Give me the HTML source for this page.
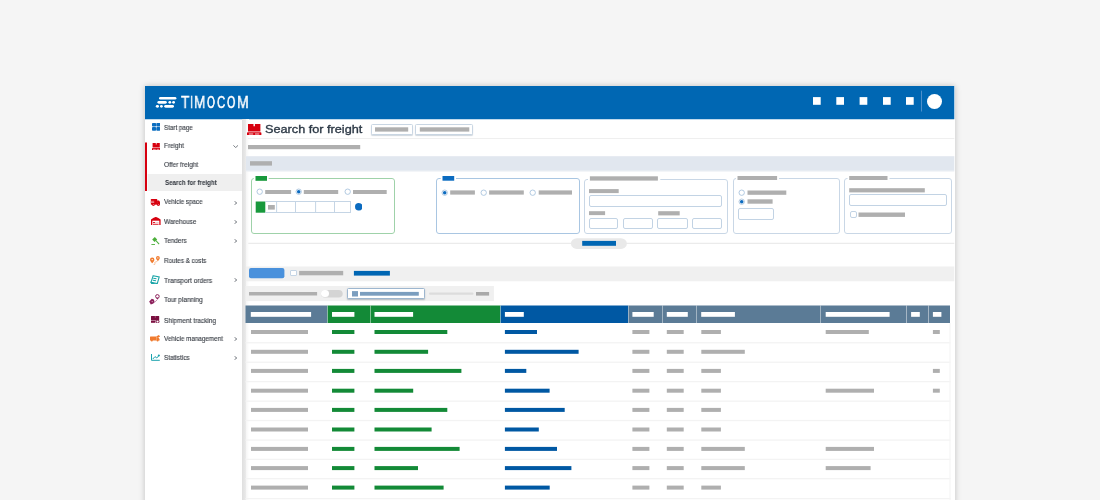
<!DOCTYPE html>
<html><head><meta charset="utf-8"><title>TIMOCOM</title><style>
*{margin:0;padding:0;box-sizing:border-box}
html,body{width:1100px;height:500px;overflow:hidden;background:#f5f5f5;font-family:"Liberation Sans",sans-serif}
body{position:relative}
.a{position:absolute}
.t{white-space:nowrap;transform-origin:0 0;will-change:transform}
</style></head><body>
<div class="a" style="left:145.00px;top:86.00px;width:810.00px;height:434.00px;background:#fff;box-shadow:0 0 6px rgba(0,0,0,.22)"></div>
<svg class="a" style="left:0;top:0" width="1100" height="500"><rect x="145" y="86" width="809.3" height="33.25" fill="#0067b3"/><rect x="159" y="97" width="17.4" height="2.5" fill="#fff" rx="1.4"/><rect x="157.4" y="101" width="9.4" height="2.7" fill="#fff" rx="1.4"/><rect x="168.4" y="101" width="2.8" height="2.7" fill="#fff" rx="1.4"/><rect x="172.2" y="101" width="2.8" height="2.7" fill="#fff" rx="1.4"/><rect x="155.8" y="105" width="3.2" height="2.7" fill="#fff" rx="1.4"/><rect x="160" y="105" width="2.8" height="2.7" fill="#fff" rx="1.4"/><rect x="164.2" y="105" width="9.8" height="2.7" fill="#fff" rx="1.4"/></svg>
<div class="a t" style="left:180.50px;top:94.69px;font-size:15.6px;line-height:15.6px;transform:scaleX(0.8676);color:#fff;-webkit-text-stroke:0.4px #fff;">T</div>
<div class="a t" style="left:189.61px;top:94.69px;font-size:15.6px;line-height:15.6px;transform:scaleX(0.7548);color:#fff;-webkit-text-stroke:0.4px #fff;">I</div>
<div class="a t" style="left:194.28px;top:94.69px;font-size:15.6px;line-height:15.6px;transform:scaleX(0.8767);color:#fff;-webkit-text-stroke:0.4px #fff;">M</div>
<div class="a t" style="left:207.32px;top:94.69px;font-size:15.6px;line-height:15.6px;transform:scaleX(0.649);color:#fff;-webkit-text-stroke:0.6px #fff;">O</div>
<div class="a t" style="left:217.03px;top:94.69px;font-size:15.6px;line-height:15.6px;transform:scaleX(0.7252);color:#fff;-webkit-text-stroke:0.6px #fff;">C</div>
<div class="a t" style="left:227.39px;top:94.69px;font-size:15.6px;line-height:15.6px;transform:scaleX(0.6845);color:#fff;-webkit-text-stroke:0.6px #fff;">O</div>
<div class="a t" style="left:237.04px;top:94.69px;font-size:15.6px;line-height:15.6px;transform:scaleX(0.9044);color:#fff;-webkit-text-stroke:0.4px #fff;">M</div>
<svg class="a" style="left:0;top:0" width="1100" height="500"><rect x="813" y="97.1" width="7.7" height="7.7" fill="#fff"/><rect x="836.3" y="97.1" width="7.7" height="7.7" fill="#fff"/><rect x="859.6" y="97.1" width="7.7" height="7.7" fill="#fff"/><rect x="883" y="97.1" width="7.7" height="7.7" fill="#fff"/><rect x="906" y="97.1" width="7.7" height="7.7" fill="#fff"/><rect x="921" y="90.7" width="1" height="20.8" fill="#4d8fcb"/></svg>
<div class="a" style="left:926.80px;top:93.60px;width:15.20px;height:15.30px;background:#fff;border-radius:50%"></div>
<div class="a" style="left:242.00px;top:119.00px;width:4.00px;height:401.00px;background:linear-gradient(90deg,#dfdfdf,#e4e4e4 50%,#ebebeb)"></div>
<div class="a" style="left:246.00px;top:119.00px;width:3.00px;height:401.00px;background:linear-gradient(90deg,#f5f5f5,#fff)"></div>
<svg class="a" style="left:0;top:0" width="1100" height="500"><rect x="147.6" y="174" width="94.3" height="17" fill="#efefef"/><rect x="145" y="142.5" width="2" height="48.5" fill="#d7000f"/></svg>
<div class="a t" style="left:164.00px;top:124.54px;font-size:6.8px;line-height:6.8px;transform:scaleX(0.918);color:#363b43;-webkit-text-stroke:0.12px #30353c;">Start page</div>
<div class="a t" style="left:164.30px;top:143.24px;font-size:6.8px;line-height:6.8px;transform:scaleX(0.9384);color:#363b43;-webkit-text-stroke:0.12px #30353c;">Freight</div>
<div class="a t" style="left:164.40px;top:161.84px;font-size:6.8px;line-height:6.8px;transform:scaleX(0.9588);color:#363b43;-webkit-text-stroke:0.12px #30353c;">Offer freight</div>
<div class="a t" style="left:164.50px;top:180.04px;font-size:6.8px;line-height:6.8px;transform:scaleX(0.9129);color:#363b43;font-weight:bold;color:#2c3139;">Search for freight</div>
<div class="a t" style="left:163.80px;top:199.24px;font-size:6.8px;line-height:6.8px;transform:scaleX(0.918);color:#363b43;-webkit-text-stroke:0.12px #30353c;">Vehicle space</div>
<div class="a t" style="left:164.00px;top:218.94px;font-size:6.8px;line-height:6.8px;transform:scaleX(0.9384);color:#363b43;-webkit-text-stroke:0.12px #30353c;">Warehouse</div>
<div class="a t" style="left:164.30px;top:237.84px;font-size:6.8px;line-height:6.8px;transform:scaleX(0.9384);color:#363b43;-webkit-text-stroke:0.12px #30353c;">Tenders</div>
<div class="a t" style="left:164.40px;top:257.54px;font-size:6.8px;line-height:6.8px;transform:scaleX(0.9251400000000001);color:#363b43;-webkit-text-stroke:0.12px #30353c;">Routes &amp; costs</div>
<div class="a t" style="left:164.40px;top:277.74px;font-size:6.8px;line-height:6.8px;transform:scaleX(0.96492);color:#363b43;-webkit-text-stroke:0.12px #30353c;">Transport orders</div>
<div class="a t" style="left:164.00px;top:296.64px;font-size:6.8px;line-height:6.8px;transform:scaleX(0.9486000000000001);color:#363b43;-webkit-text-stroke:0.12px #30353c;">Tour planning</div>
<div class="a t" style="left:164.00px;top:317.54px;font-size:6.8px;line-height:6.8px;transform:scaleX(0.9588);color:#363b43;-webkit-text-stroke:0.12px #30353c;">Shipment tracking</div>
<div class="a t" style="left:164.00px;top:336.04px;font-size:6.8px;line-height:6.8px;transform:scaleX(0.9282);color:#363b43;-webkit-text-stroke:0.12px #30353c;">Vehicle management</div>
<div class="a t" style="left:164.00px;top:354.64px;font-size:6.8px;line-height:6.8px;transform:scaleX(0.9435000000000001);color:#363b43;-webkit-text-stroke:0.12px #30353c;">Statistics</div>
<svg class="a" style="left:151.7px;top:123.3px" width="8.4" height="7.7" viewBox="0 0 8.4 7.7"><g fill="#0b6dc0"><rect x="0" y="0" width="4.1" height="3.6" rx=".8"/><rect x="4.3" y="0" width="4.1" height="3.6" rx=".8"/><rect x="0" y="4.1" width="4.1" height="3.6" rx=".8"/><rect x="4.3" y="4.1" width="4.1" height="3.6" rx=".8"/></g></svg>
<svg class="a" style="left:151.8px;top:142.8px" width="8.4" height="7.4" viewBox="0 0 8.4 7.4"><g fill="#d7000f"><path d="M0.6 0h3.2v1.4h0.8V0h3.2v4.5H0.6z"/><rect x="0" y="5" width="8.4" height="2.4" rx=".6"/></g><g fill="#fff"><rect x="1" y="5.9" width="2.8" height=".6"/><rect x="4.6" y="5.9" width="2.8" height=".6"/></g></svg>
<svg class="a" style="left:150px;top:199px" width="10.4" height="7.2" viewBox="0 0 10.4 7.2"><g fill="#d7000f"><rect x="0.9" y="0.1" width="6.3" height="4.9" rx=".5"/><path d="M7.1 1.5H9l1.2 1.5v2.6H7.1z"/><rect x="0.9" y="4.3" width="9.3" height="1.4"/><circle cx="3.4" cy="5.7" r="1.3"/><circle cx="8.4" cy="5.7" r="1.3"/></g><g fill="#fff"><circle cx="3.4" cy="5.7" r=".45"/><circle cx="8.4" cy="5.7" r=".45"/><rect x="0.9" y="1.9" width="3.3" height=".5"/><rect x="0.9" y="3.1" width="3.3" height=".5"/></g><g fill="#d7000f" opacity=".35"><rect x="0" y="1.9" width="0.9" height=".5"/><rect x="0" y="3.1" width="0.9" height=".5"/></g></svg>
<svg class="a" style="left:151px;top:217px" width="9.6" height="8" viewBox="0 0 9.6 8"><path fill="#d7000f" d="M0 2.4Q2.2.8 4.5 0h.6Q7.4.8 9.6 2.4V8H0z"/><rect fill="#fff" x="1.3" y="3.7" width="7" height="4.3"/><g fill="#d7000f"><rect x="2" y="5" width="2.2" height=".9"/><rect x="2" y="6.8" width="5.6" height=".9"/><rect x="5.2" y="5" width="2.4" height=".5" opacity=".5"/></g></svg>
<svg class="a" style="left:151px;top:237px" width="8.6" height="8" viewBox="0 0 8.6 8"><g fill="#4caf3b"><path d="M1.2 2.6L3.8 0l2.4 2.4-2.6 2.6z"/><path d="M4.6 4L5.3 3.3l3.2 3.5-.8.8z"/><rect x="0.4" y="7.1" width="3.6" height=".9"/></g></svg>
<svg class="a" style="left:149.8px;top:255.6px" width="10" height="9.2" viewBox="0 0 10 9.2"><g fill="#f07b2f"><path d="M2.2 1.5a2.2 2.2 0 0 1 2.2 2.2c0 1.4-2.2 3.6-2.2 3.6S0 5.1 0 3.7A2.2 2.2 0 0 1 2.2 1.5z"/><path d="M7.9 0a1.9 1.9 0 0 1 1.9 1.9c0 1.2-1.9 3.1-1.9 3.1S6 3.1 6 1.9A1.9 1.9 0 0 1 7.9 0z"/></g><g fill="#fff"><circle cx="2.2" cy="3.6" r=".7"/><circle cx="7.9" cy="1.9" r=".6"/></g><path d="M7.4 5.4c-2 .6-3.6 1-2.4 2.2 .6.6-.5 1.2-1.6 1.3" stroke="#f07b2f" stroke-width=".6" fill="none" opacity=".8"/></svg>
<svg class="a" style="left:150.4px;top:275px" width="9.6" height="9.2" viewBox="0 0 9.6 9.2"><g fill="none" stroke="#1aa5a8" stroke-width="1.1"><path d="M3.2.7l6 1.3-1.9 6.6-6.3-1.2z"/><path d="M3.3 3.2l3.2.6M2.8 5.2l3.2.6"/></g><path fill="#1aa5a8" d="M.3 6.6L1.2 9l5.5.1z"/></svg>
<svg class="a" style="left:148.9px;top:294px" width="11" height="10.5" viewBox="0 0 11 10.5"><circle cx="8.4" cy="2.4" r="1.8" fill="none" stroke="#8b1e5a" stroke-width="1"/><path d="M7.2 3.8L8.4 5.8 9.6 3.8" fill="#8b1e5a"/><path d="M7.6 6.2c-.6 1.2-1.6 1.6-2.4 2.6" stroke="#8b1e5a" stroke-width=".7" fill="none" stroke-dasharray=".9 .6"/><path fill="#8b1e5a" d="M.2 7.6L2.8 4.8 4.8 5.4 5.6 7.8 4.4 9.6 1.8 10.4z"/><circle cx="3.2" cy="7.6" r=".7" fill="#fff" opacity=".6"/></svg>
<svg class="a" style="left:150.8px;top:315.9px" width="8.8" height="7.6" viewBox="0 0 8.8 7.6"><g fill="#7b0f40"><rect x="0" y="0" width="8.2" height="4.4" rx=".3"/><rect x="0" y="4.9" width="4.4" height="1.9"/></g><rect x="3.9" y="0" width=".5" height="1.8" fill="#fff" opacity=".6"/><circle cx="6.6" cy="5.6" r="1.45" fill="#fff" stroke="#7b0f40" stroke-width="1"/></svg>
<svg class="a" style="left:150px;top:335.3px" width="10.2" height="6.6" viewBox="0 0 10.2 6.6"><g fill="#f07b2f"><rect x="0" y="1.4" width="6.6" height="4.2" rx=".5"/><path d="M6.6 2.4h1.8l1.2 1.5v1.7H6.6z"/><circle cx="1.8" cy="5.6" r="1"/><circle cx="7.6" cy="5.6" r="1"/><path d="M6.2 1.6L8.8 0 10.2 1.4 7.6 3z"/></g></svg>
<svg class="a" style="left:151px;top:354.2px" width="8.8" height="6.8" viewBox="0 0 8.8 6.8"><g fill="none" stroke="#18a2ad" stroke-width="1"><path d="M.5 0v6.3h8.3"/><path d="M1.8 5l2.2-2.4 1.8 1.4 2.6-3"/></g><circle cx="7.8" cy="1.5" r="1" fill="#18a2ad"/></svg>
<svg class="a" style="left:234.3px;top:200.7px" width="3.6" height="4" viewBox="0 0 3.6 4"><path d="M.5.3L2.8 2 .5 3.7" stroke="#575d65" stroke-width=".8" fill="none"/></svg>
<svg class="a" style="left:234.3px;top:219.5px" width="3.6" height="4" viewBox="0 0 3.6 4"><path d="M.5.3L2.8 2 .5 3.7" stroke="#575d65" stroke-width=".8" fill="none"/></svg>
<svg class="a" style="left:234.3px;top:238.6px" width="3.6" height="4" viewBox="0 0 3.6 4"><path d="M.5.3L2.8 2 .5 3.7" stroke="#575d65" stroke-width=".8" fill="none"/></svg>
<svg class="a" style="left:234.3px;top:278.4px" width="3.6" height="4" viewBox="0 0 3.6 4"><path d="M.5.3L2.8 2 .5 3.7" stroke="#575d65" stroke-width=".8" fill="none"/></svg>
<svg class="a" style="left:234.3px;top:337.1px" width="3.6" height="4" viewBox="0 0 3.6 4"><path d="M.5.3L2.8 2 .5 3.7" stroke="#575d65" stroke-width=".8" fill="none"/></svg>
<svg class="a" style="left:234.3px;top:355.9px" width="3.6" height="4" viewBox="0 0 3.6 4"><path d="M.5.3L2.8 2 .5 3.7" stroke="#575d65" stroke-width=".8" fill="none"/></svg>
<svg class="a" style="left:233px;top:144.6px" width="5.4" height="3.4" viewBox="0 0 5.4 3.4"><path d="M.4.4L2.7 2.6 5 .4" stroke="#575d65" stroke-width=".8" fill="none"/></svg>
<svg class="a" style="left:247.3px;top:123.7px" width="14.4" height="11.5" viewBox="0 0 14.4 11.5"><g fill="#d7000f"><path d="M1 0h5.5v2.3h1.4V0h5.5v7.4H1z"/><rect x="0" y="8.2" width="14.4" height="3.3" rx=".8"/></g><g fill="#fff"><rect x="1.9" y="9.6" width="4.3" height=".8"/><rect x="8" y="9.6" width="4.3" height=".8"/></g></svg>
<div class="a t" style="left:264.90px;top:123.91px;font-size:11.8px;line-height:11.8px;transform:scaleX(1.075);color:#2d3946;-webkit-text-stroke:0.35px #2d3946;">Search for freight</div>
<div class="a" style="left:370.50px;top:123.80px;width:42.30px;height:11.40px;background:#fff;border:1px solid #c9d6e3;border-radius:1.5px;box-shadow:0 1px 1px rgba(120,140,160,.35)"></div>
<svg class="a" style="left:0;top:0" width="1100" height="500"><rect x="375" y="127.3" width="33.2" height="4.3" fill="#afafaf"/></svg>
<div class="a" style="left:415.30px;top:123.80px;width:57.70px;height:11.40px;background:#fff;border:1px solid #c9d6e3;border-radius:1.5px;box-shadow:0 1px 1px rgba(120,140,160,.35)"></div>
<svg class="a" style="left:0;top:0" width="1100" height="500"><rect x="419.8" y="127.3" width="49.5" height="4.3" fill="#afafaf"/><rect x="248" y="138" width="706.3" height="1" fill="#efefef"/><rect x="248" y="145" width="112.2" height="4.2" fill="#afafaf"/><rect x="246" y="156.2" width="708.3" height="14.6" fill="#e1e7ef"/><rect x="246" y="170.8" width="708.3" height="0.8" fill="#eceff3"/><rect x="250" y="161.2" width="22" height="4.4" fill="#afafaf"/></svg>
<div class="a" style="left:251.00px;top:178.00px;width:144.00px;height:56.00px;border:1px solid #9fd2a9;border-radius:3px"></div>
<svg class="a" style="left:0;top:0" width="1100" height="500"><rect x="253.8" y="177" width="14.9" height="3" fill="#fff"/><rect x="255.5" y="176" width="11.5" height="4.8" fill="#18993c"/></svg>
<svg class="a" style="left:255.60px;top:188.30px;overflow:visible" width="7.40" height="7.40"><circle cx="3.7" cy="3.7" r="2.7" fill="#fff" stroke="#a9c4de" stroke-width="0.9"/></svg>
<svg class="a" style="left:0;top:0" width="1100" height="500"><rect x="265.2" y="190" width="25.9" height="4" fill="#afafaf"/></svg>
<svg class="a" style="left:294.60px;top:188.30px;overflow:visible" width="7.40" height="7.40"><circle cx="3.7" cy="3.7" r="2.7" fill="#fff" stroke="#a9c4de" stroke-width="0.9"/><circle cx="3.7" cy="3.7" r="1.75" fill="#0b6bc0"/></svg>
<svg class="a" style="left:0;top:0" width="1100" height="500"><rect x="303.8" y="190" width="34.4" height="4" fill="#afafaf"/></svg>
<svg class="a" style="left:343.90px;top:188.30px;overflow:visible" width="7.40" height="7.40"><circle cx="3.7" cy="3.7" r="2.7" fill="#fff" stroke="#a9c4de" stroke-width="0.9"/></svg>
<svg class="a" style="left:0;top:0" width="1100" height="500"><rect x="353" y="190" width="33.7" height="4" fill="#afafaf"/><rect x="255.7" y="201.5" width="9.6" height="11.2" fill="#18993c"/></svg>
<div class="a" style="left:265.30px;top:201.30px;width:85.30px;height:11.70px;border:1px solid #c5d5e5;border-left:none"></div>
<svg class="a" style="left:0;top:0" width="1100" height="500"><rect x="276.1" y="201.3" width="1" height="11.7" fill="#c5d5e5"/><rect x="295" y="201.3" width="1" height="11.7" fill="#c5d5e5"/><rect x="315.1" y="201.3" width="1" height="11.7" fill="#c5d5e5"/><rect x="334" y="201.3" width="1" height="11.7" fill="#c5d5e5"/><rect x="268" y="205" width="6.8" height="4.6" fill="#afafaf"/></svg>
<svg class="a" style="left:354.85px;top:203.45px" width="7.50" height="7.50"><circle cx="3.75" cy="3.75" r="3.75" fill="#0b6bc0"/></svg>
<div class="a" style="left:436.00px;top:178.00px;width:144.00px;height:56.00px;border:1px solid #a9c6e2;border-radius:3px"></div>
<svg class="a" style="left:0;top:0" width="1100" height="500"><rect x="440.7" y="177" width="15.3" height="3" fill="#fff"/><rect x="442.5" y="176" width="11.7" height="4.7" fill="#0b6bc0"/></svg>
<svg class="a" style="left:440.70px;top:188.90px;overflow:visible" width="7.40" height="7.40"><circle cx="3.7" cy="3.7" r="2.7" fill="#fff" stroke="#a9c4de" stroke-width="0.9"/><circle cx="3.7" cy="3.7" r="1.75" fill="#0b6bc0"/></svg>
<svg class="a" style="left:0;top:0" width="1100" height="500"><rect x="450.2" y="190.4" width="24.7" height="4.2" fill="#afafaf"/></svg>
<svg class="a" style="left:479.70px;top:188.90px;overflow:visible" width="7.40" height="7.40"><circle cx="3.7" cy="3.7" r="2.7" fill="#fff" stroke="#a9c4de" stroke-width="0.9"/></svg>
<svg class="a" style="left:0;top:0" width="1100" height="500"><rect x="489.1" y="190.4" width="34.7" height="4.2" fill="#afafaf"/></svg>
<svg class="a" style="left:528.90px;top:188.90px;overflow:visible" width="7.40" height="7.40"><circle cx="3.7" cy="3.7" r="2.7" fill="#fff" stroke="#a9c4de" stroke-width="0.9"/></svg>
<svg class="a" style="left:0;top:0" width="1100" height="500"><rect x="538.7" y="190.4" width="33.3" height="4.2" fill="#afafaf"/></svg>
<div class="a" style="left:584.00px;top:178.50px;width:144.00px;height:55.50px;border:1px solid #c9d7e6;border-radius:3px"></div>
<svg class="a" style="left:0;top:0" width="1100" height="500"><rect x="588" y="177.5" width="72.3" height="3" fill="#fff"/><rect x="589.9" y="176.3" width="68" height="4.3" fill="#afafaf"/><rect x="589" y="189.1" width="29.7" height="4" fill="#afafaf"/></svg>
<div class="a" style="left:588.50px;top:195.00px;width:133.50px;height:12.00px;border:1px solid #c2d3e4;border-radius:2px;background:#fff"></div>
<svg class="a" style="left:0;top:0" width="1100" height="500"><rect x="589" y="211.2" width="16.1" height="3.9" fill="#afafaf"/><rect x="658.2" y="211.2" width="21.5" height="4.2" fill="#afafaf"/></svg>
<div class="a" style="left:588.60px;top:218.00px;width:29.90px;height:11.00px;border:1px solid #c2d3e4;border-radius:2px;background:#fff"></div>
<div class="a" style="left:622.90px;top:218.00px;width:30.40px;height:11.00px;border:1px solid #c2d3e4;border-radius:2px;background:#fff"></div>
<div class="a" style="left:657.30px;top:218.00px;width:30.30px;height:11.00px;border:1px solid #c2d3e4;border-radius:2px;background:#fff"></div>
<div class="a" style="left:691.60px;top:218.00px;width:30.30px;height:11.00px;border:1px solid #c2d3e4;border-radius:2px;background:#fff"></div>
<div class="a" style="left:732.50px;top:178.00px;width:107.50px;height:56.00px;border:1px solid #c9d7e6;border-radius:3px"></div>
<svg class="a" style="left:0;top:0" width="1100" height="500"><rect x="736" y="177" width="43" height="3" fill="#fff"/><rect x="737.5" y="176" width="39.6" height="4" fill="#afafaf"/></svg>
<svg class="a" style="left:737.90px;top:189.00px;overflow:visible" width="7.40" height="7.40"><circle cx="3.7" cy="3.7" r="2.7" fill="#fff" stroke="#a9c4de" stroke-width="0.9"/></svg>
<svg class="a" style="left:0;top:0" width="1100" height="500"><rect x="747.5" y="190.5" width="38.8" height="4.3" fill="#afafaf"/></svg>
<svg class="a" style="left:737.90px;top:198.00px;overflow:visible" width="7.40" height="7.40"><circle cx="3.7" cy="3.7" r="2.7" fill="#fff" stroke="#a9c4de" stroke-width="0.9"/><circle cx="3.7" cy="3.7" r="1.75" fill="#0b6bc0"/></svg>
<svg class="a" style="left:0;top:0" width="1100" height="500"><rect x="747.5" y="199.3" width="25.1" height="4.4" fill="#afafaf"/></svg>
<div class="a" style="left:738.00px;top:208.00px;width:36.00px;height:12.00px;border:1px solid #c2d3e4;border-radius:2px;background:#fff"></div>
<div class="a" style="left:844.00px;top:178.00px;width:108.00px;height:56.00px;border:1px solid #c9d7e6;border-radius:3px"></div>
<svg class="a" style="left:0;top:0" width="1100" height="500"><rect x="847.5" y="177" width="42" height="3" fill="#fff"/><rect x="849.2" y="176" width="38.3" height="4" fill="#afafaf"/><rect x="849.2" y="188.2" width="75.6" height="4.2" fill="#afafaf"/></svg>
<div class="a" style="left:849.00px;top:194.00px;width:98.00px;height:12.00px;border:1px solid #c2d3e4;border-radius:2px;background:#fff"></div>
<div class="a" style="left:849.50px;top:211.00px;width:7.00px;height:7.00px;border:1px solid #c2d3e4;border-radius:2px;background:#fff"></div>
<svg class="a" style="left:0;top:0" width="1100" height="500"><rect x="858.5" y="212.5" width="46.5" height="4.4" fill="#afafaf"/><rect x="248.3" y="242.8" width="706" height="1" fill="#e6e6e6"/><rect x="570.9" y="238.2" width="56" height="10.7" fill="#e9e9e9" rx="6"/><rect x="582.2" y="240.9" width="33.8" height="4.9" fill="#0066b3"/><rect x="246" y="266.5" width="708.3" height="14.8" fill="#f0f0f0"/><rect x="249" y="268" width="35.4" height="10.2" fill="#4a91dc" rx="2"/></svg>
<div class="a" style="left:290.40px;top:269.80px;width:6.30px;height:6.60px;background:#fff;border:1px solid #c5d5e5;border-radius:1px"></div>
<svg class="a" style="left:0;top:0" width="1100" height="500"><rect x="299.1" y="270.9" width="44.1" height="4.4" fill="#afafaf"/><rect x="353.9" y="270.9" width="36" height="4.7" fill="#0066b3"/><rect x="245.5" y="286" width="248.4" height="15.1" fill="#f0f0f0"/><rect x="249" y="292" width="68.1" height="3.5" fill="#afafaf"/><rect x="320.9" y="290" width="21.8" height="7.6" fill="#d4d4d4" rx="4"/></svg>
<div class="a" style="left:321.40px;top:290.30px;width:7.20px;height:7.00px;background:#fff;border-radius:50%"></div>
<div class="a" style="left:347.30px;top:288.20px;width:77.40px;height:10.90px;background:#fff;border:1px solid #9db6cf;border-radius:1.5px;box-shadow:0 1px 1.5px rgba(60,80,100,.35)"></div>
<svg class="a" style="left:0;top:0" width="1100" height="500"><rect x="352" y="291.1" width="6" height="5.4" fill="#7b9ebf"/><rect x="360" y="291.9" width="58.8" height="3.8" fill="#7b9ebf"/><rect x="429" y="292.4" width="44.5" height="2.4" fill="#dcdcdc" rx="1"/><rect x="476" y="292" width="13.1" height="3.6" fill="#a9a9a9"/><rect x="245.5" y="305.5" width="82" height="17.5" fill="#5b7b96"/><rect x="327.5" y="305.5" width="43" height="17.5" fill="#138a37"/><rect x="370.5" y="305.5" width="130" height="17.5" fill="#138a37"/><rect x="500.5" y="305.5" width="127.8" height="17.5" fill="#0058a3"/><rect x="628.3" y="305.5" width="34" height="17.5" fill="#5b7b96"/><rect x="662.3" y="305.5" width="34" height="17.5" fill="#5b7b96"/><rect x="696.3" y="305.5" width="124" height="17.5" fill="#5b7b96"/><rect x="820.3" y="305.5" width="86.2" height="17.5" fill="#5b7b96"/><rect x="906.5" y="305.5" width="22" height="17.5" fill="#5b7b96"/><rect x="928.5" y="305.5" width="21.5" height="17.5" fill="#5b7b96"/><rect x="327.2" y="305.5" width="0.8" height="17.5" fill="rgba(255,255,255,.35)"/><rect x="370" y="305.5" width="0.8" height="17.5" fill="rgba(255,255,255,.35)"/><rect x="500.2" y="305.5" width="0.8" height="17.5" fill="rgba(255,255,255,.35)"/><rect x="628" y="305.5" width="0.8" height="17.5" fill="rgba(255,255,255,.35)"/><rect x="662" y="305.5" width="0.8" height="17.5" fill="rgba(255,255,255,.35)"/><rect x="696" y="305.5" width="0.8" height="17.5" fill="rgba(255,255,255,.35)"/><rect x="820" y="305.5" width="0.8" height="17.5" fill="rgba(255,255,255,.35)"/><rect x="906.2" y="305.5" width="0.8" height="17.5" fill="rgba(255,255,255,.35)"/><rect x="928.2" y="305.5" width="0.8" height="17.5" fill="rgba(255,255,255,.35)"/><rect x="250.8" y="312" width="60.3" height="4.8" fill="#fff"/><rect x="332" y="312" width="22.4" height="4.8" fill="#fff"/><rect x="374.5" y="312" width="38.6" height="4.8" fill="#fff"/><rect x="504.9" y="312" width="18.9" height="4.8" fill="#fff"/><rect x="632.4" y="312" width="21.3" height="4.8" fill="#fff"/><rect x="666.8" y="312" width="21" height="4.8" fill="#fff"/><rect x="701.2" y="312" width="33.7" height="4.8" fill="#fff"/><rect x="825.7" y="312" width="63.9" height="4.8" fill="#fff"/><rect x="911.1" y="312" width="8.7" height="4.8" fill="#fff"/><rect x="932.9" y="312" width="8.5" height="4.8" fill="#fff"/><rect x="251" y="330" width="57" height="4" fill="#afafaf"/><rect x="332" y="330" width="22.4" height="4" fill="#138a37"/><rect x="374.5" y="330" width="72.8" height="4" fill="#138a37"/><rect x="504.9" y="330" width="32.1" height="4" fill="#0058a3"/><rect x="632.4" y="330" width="17" height="4" fill="#afafaf"/><rect x="666.8" y="330" width="16.9" height="4" fill="#afafaf"/><rect x="701.3" y="330" width="19.6" height="4" fill="#afafaf"/><rect x="825.7" y="330" width="43.1" height="4" fill="#afafaf"/><rect x="932.9" y="330" width="6.9" height="4" fill="#afafaf"/><rect x="245.5" y="342.1" width="705" height="1.3" fill="#f3f3f3"/><rect x="251" y="349.8" width="57" height="4" fill="#afafaf"/><rect x="332" y="349.8" width="22.4" height="4" fill="#138a37"/><rect x="374.5" y="349.8" width="53.6" height="4" fill="#138a37"/><rect x="504.9" y="349.8" width="73.7" height="4" fill="#0058a3"/><rect x="632.4" y="349.8" width="17" height="4" fill="#afafaf"/><rect x="666.8" y="349.8" width="16.9" height="4" fill="#afafaf"/><rect x="701.3" y="349.8" width="43.5" height="4" fill="#afafaf"/><rect x="245.5" y="361.55" width="705" height="1.3" fill="#f3f3f3"/><rect x="251" y="368.9" width="57" height="4" fill="#afafaf"/><rect x="332" y="368.9" width="22.4" height="4" fill="#138a37"/><rect x="374.5" y="368.9" width="86.9" height="4" fill="#138a37"/><rect x="504.9" y="368.9" width="21.4" height="4" fill="#0058a3"/><rect x="632.4" y="368.9" width="17" height="4" fill="#afafaf"/><rect x="666.8" y="368.9" width="16.9" height="4" fill="#afafaf"/><rect x="701.3" y="368.9" width="19.6" height="4" fill="#afafaf"/><rect x="932.9" y="368.9" width="6.9" height="4" fill="#afafaf"/><rect x="245.5" y="381" width="705" height="1.3" fill="#f3f3f3"/><rect x="251" y="388.7" width="57" height="4" fill="#afafaf"/><rect x="332" y="388.7" width="22.4" height="4" fill="#138a37"/><rect x="374.5" y="388.7" width="38.7" height="4" fill="#138a37"/><rect x="504.9" y="388.7" width="44.7" height="4" fill="#0058a3"/><rect x="632.4" y="388.7" width="17" height="4" fill="#afafaf"/><rect x="666.8" y="388.7" width="16.9" height="4" fill="#afafaf"/><rect x="701.3" y="388.7" width="19.6" height="4" fill="#afafaf"/><rect x="825.7" y="388.7" width="48.3" height="4" fill="#afafaf"/><rect x="932.9" y="388.7" width="6.9" height="4" fill="#afafaf"/><rect x="245.5" y="400.5" width="705" height="1.3" fill="#f3f3f3"/><rect x="251" y="407.9" width="57" height="4" fill="#afafaf"/><rect x="332" y="407.9" width="22.4" height="4" fill="#138a37"/><rect x="374.5" y="407.9" width="72.8" height="4" fill="#138a37"/><rect x="504.9" y="407.9" width="59.8" height="4" fill="#0058a3"/><rect x="632.4" y="407.9" width="17" height="4" fill="#afafaf"/><rect x="666.8" y="407.9" width="16.9" height="4" fill="#afafaf"/><rect x="701.3" y="407.9" width="19.6" height="4" fill="#afafaf"/><rect x="245.5" y="419.9" width="705" height="1.3" fill="#f3f3f3"/><rect x="251" y="427.5" width="57" height="4" fill="#afafaf"/><rect x="332" y="427.5" width="22.4" height="4" fill="#138a37"/><rect x="374.5" y="427.5" width="57.1" height="4" fill="#138a37"/><rect x="504.9" y="427.5" width="33.9" height="4" fill="#0058a3"/><rect x="632.4" y="427.5" width="17" height="4" fill="#afafaf"/><rect x="666.8" y="427.5" width="16.9" height="4" fill="#afafaf"/><rect x="701.3" y="427.5" width="19.6" height="4" fill="#afafaf"/><rect x="245.5" y="439.4" width="705" height="1.3" fill="#f3f3f3"/><rect x="251" y="446.9" width="57" height="4" fill="#afafaf"/><rect x="332" y="446.9" width="22.4" height="4" fill="#138a37"/><rect x="374.5" y="446.9" width="85.1" height="4" fill="#138a37"/><rect x="504.9" y="446.9" width="52.1" height="4" fill="#0058a3"/><rect x="632.4" y="446.9" width="17" height="4" fill="#afafaf"/><rect x="666.8" y="446.9" width="16.9" height="4" fill="#afafaf"/><rect x="701.3" y="446.9" width="43.5" height="4" fill="#afafaf"/><rect x="825.7" y="446.9" width="48.3" height="4" fill="#afafaf"/><rect x="245.5" y="458.7" width="705" height="1.3" fill="#f3f3f3"/><rect x="251" y="466.1" width="57" height="4" fill="#afafaf"/><rect x="332" y="466.1" width="22.4" height="4" fill="#138a37"/><rect x="374.5" y="466.1" width="43.5" height="4" fill="#138a37"/><rect x="504.9" y="466.1" width="66.5" height="4" fill="#0058a3"/><rect x="632.4" y="466.1" width="17" height="4" fill="#afafaf"/><rect x="666.8" y="466.1" width="16.9" height="4" fill="#afafaf"/><rect x="701.3" y="466.1" width="43.5" height="4" fill="#afafaf"/><rect x="825.7" y="466.1" width="44.9" height="4" fill="#afafaf"/><rect x="245.5" y="478.05" width="705" height="1.3" fill="#f3f3f3"/><rect x="251" y="485.6" width="57" height="4" fill="#afafaf"/><rect x="332" y="485.6" width="22.4" height="4" fill="#138a37"/><rect x="374.5" y="485.6" width="69.1" height="4" fill="#138a37"/><rect x="504.9" y="485.6" width="44.8" height="4" fill="#0058a3"/><rect x="632.4" y="485.6" width="17" height="4" fill="#afafaf"/><rect x="666.8" y="485.6" width="16.9" height="4" fill="#afafaf"/><rect x="701.3" y="485.6" width="19.6" height="4" fill="#afafaf"/><rect x="245.5" y="498" width="705" height="1.3" fill="#f3f3f3"/><rect x="949.4" y="323" width="1.2" height="197" fill="#f6f6f6"/></svg>
</body></html>
